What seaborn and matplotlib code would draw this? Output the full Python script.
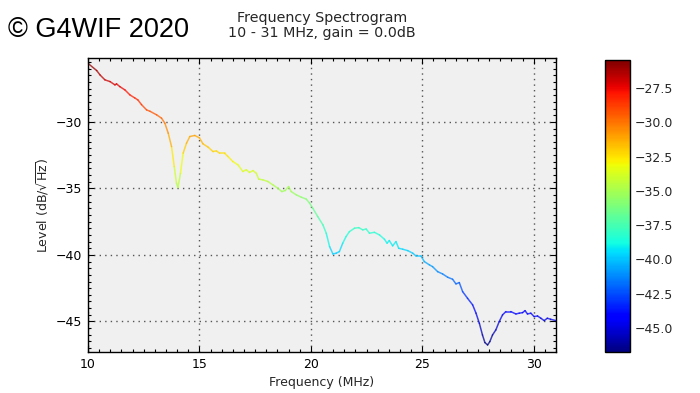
#!/usr/bin/env python
"""Frequency spectrogram, level vs frequency, coloured by level."""
import pandas as pd
import seaborn as sns
import matplotlib

matplotlib.use("Agg")
import matplotlib.pyplot as plt
from matplotlib.colors import Normalize
from matplotlib.cm import ScalarMappable
from matplotlib.ticker import MultipleLocator

freq_mhz = [
    10.0, 10.39, 10.54, 10.76, 10.99, 11.21, 11.28, 11.43, 11.66, 11.88,
    12.1, 12.24, 12.4, 12.63, 12.78, 13.08, 13.3, 13.45, 13.6, 13.75,
    13.87, 13.97, 14.04, 14.15, 14.27, 14.42, 14.57, 14.79, 15.0, 15.16,
    15.39, 15.61, 15.76, 15.91, 16.13, 16.28, 16.5, 16.73, 16.95, 17.1,
    17.25, 17.4, 17.55, 17.66, 17.85, 18.07, 18.3, 18.52, 18.7, 18.85,
    19.0, 19.12, 19.35, 19.57, 19.79, 19.94, 20.09, 20.31, 20.54, 20.69,
    20.84, 20.99, 21.14, 21.28, 21.43, 21.58, 21.73, 21.96, 22.15, 22.33,
    22.48, 22.63, 22.85, 23.08, 23.3, 23.42, 23.52, 23.67, 23.82, 23.94,
    24.12, 24.35, 24.57, 24.72, 24.94, 25.09, 25.32, 25.46, 25.69, 25.91,
    26.14, 26.36, 26.51, 26.66, 26.81, 27.03, 27.26, 27.41, 27.56, 27.7,
    27.81, 27.93, 28.03, 28.15, 28.3, 28.45, 28.6, 28.75, 28.97, 29.2,
    29.35, 29.5, 29.61, 29.72, 29.87, 30.02, 30.17, 30.32, 30.47, 30.61,
    30.76, 31.0,
]
level_db = [
    -25.6, -26.14, -26.47, -26.84, -26.97, -27.22, -27.14, -27.35, -27.6, -27.97,
    -28.2, -28.35, -28.7, -29.1, -29.2, -29.47, -29.72, -30.1, -30.85, -31.86,
    -33.36, -34.6, -34.94, -33.86, -32.35, -31.6, -31.1, -31.02, -31.2, -31.65,
    -31.9, -32.23, -32.18, -32.36, -32.36, -32.6, -32.98, -33.23, -33.73, -33.6,
    -33.8, -33.66, -33.86, -34.3, -34.36, -34.48, -34.74, -34.99, -35.24, -35.16,
    -34.86, -35.24, -35.49, -35.66, -35.8, -36.1, -36.5, -37.12, -37.74, -38.37,
    -39.37, -39.93, -39.87, -39.75, -39.12, -38.62, -38.25, -37.99, -37.95, -38.12,
    -38.05, -38.37, -38.3, -38.5, -38.82, -39.12, -38.92, -39.32, -39.0, -39.5,
    -39.57, -39.68, -39.87, -40.08, -40.08, -40.5, -40.75, -40.88, -41.26, -41.43,
    -41.68, -41.83, -42.18, -42.08, -42.76, -43.26, -43.76, -44.38, -45.14, -46.02,
    -46.59, -46.77, -46.52, -46.02, -45.64, -45.02, -44.51, -44.26, -44.26, -44.44,
    -44.38, -44.34, -44.19, -44.44, -44.38, -44.64, -44.59, -44.76, -44.94, -44.76,
    -44.84, -44.94,
]
x_ticks = [10, 15, 20, 25, 30]
y_ticks = [-45, -40, -35, -30]
cbar_ticks = [-45.0, -42.5, -40.0, -37.5, -35.0, -32.5, -30.0, -27.5]
level_min, level_max = -46.75, -25.45

sns.set_theme(style="ticks")
plt.rcParams["font.family"] = ["DejaVu Sans"]
plt.rcParams.update({"axes.edgecolor": "black", "axes.linewidth": 1.0})

# one short two-point line per segment, hue = mean level of the segment
rows = []
for i in range(len(freq_mhz) - 1):
    mid = (level_db[i] + level_db[i + 1]) / 2
    for j in (i, i + 1):
        rows.append({"seg": i, "freq": freq_mhz[j], "level": level_db[j], "hue": mid})
df = pd.DataFrame(rows)

norm = Normalize(vmin=level_min, vmax=level_max)
jet = plt.get_cmap("jet")

fig = plt.figure(figsize=(7.0, 3.93), dpi=100)
ax = fig.add_axes([0.1257, 0.1043, 0.6686, 0.748])
ax.set_facecolor("#f0f0f0")
sns.lineplot(
    data=df, x="freq", y="level", units="seg", hue="hue", estimator=None,
    palette=jet, hue_norm=norm, legend=False, linewidth=1.1, alpha=0.75,
    sort=False, ax=ax,
)
ax.set_xlim(10, 31)
ax.set_ylim(-47.3, -25.2)
ax.set_xticks(x_ticks)
ax.set_yticks(y_ticks)
ax.xaxis.set_minor_locator(MultipleLocator(0.5))
ax.yaxis.set_minor_locator(MultipleLocator(0.5))
ax.tick_params(which="both", direction="in", top=True, right=True,
               bottom=True, left=True, color="black", width=0.8)
ax.tick_params(which="major", length=4, labelsize=9, labelcolor="black", pad=4)
ax.tick_params(which="minor", length=2)
ax.grid(True, which="major", color="#555555", linestyle=(0, (1, 3)), linewidth=1.0)
ax.set_xlabel("Frequency (MHz)", fontsize=9)
ax.set_ylabel(r"Level (dB/$\sqrt{\mathrm{Hz}}$)", fontsize=9)
ax.set_title("Frequency Spectrogram\n10 - 31 MHz, gain = 0.0dB", fontsize=10.3,
             linespacing=1.15, pad=15)

cax = fig.add_axes([0.864, 0.1043, 0.0357, 0.743])
sm = ScalarMappable(norm=norm, cmap=jet)
cb = fig.colorbar(sm, cax=cax)
cb.set_ticks(cbar_ticks)
cb.ax.tick_params(labelsize=9, direction="in", length=4, width=0.8,
                  right=True, left=False, color="black")
cb.ax.minorticks_off()
cb.outline.set_linewidth(1.0)

fig.text(0.011, 0.906, "\u00a9 G4WIF 2020", fontsize=19.5, color="black",
         family=["Liberation Sans", "DejaVu Sans"])

fig.savefig("out.png", dpi=100)
